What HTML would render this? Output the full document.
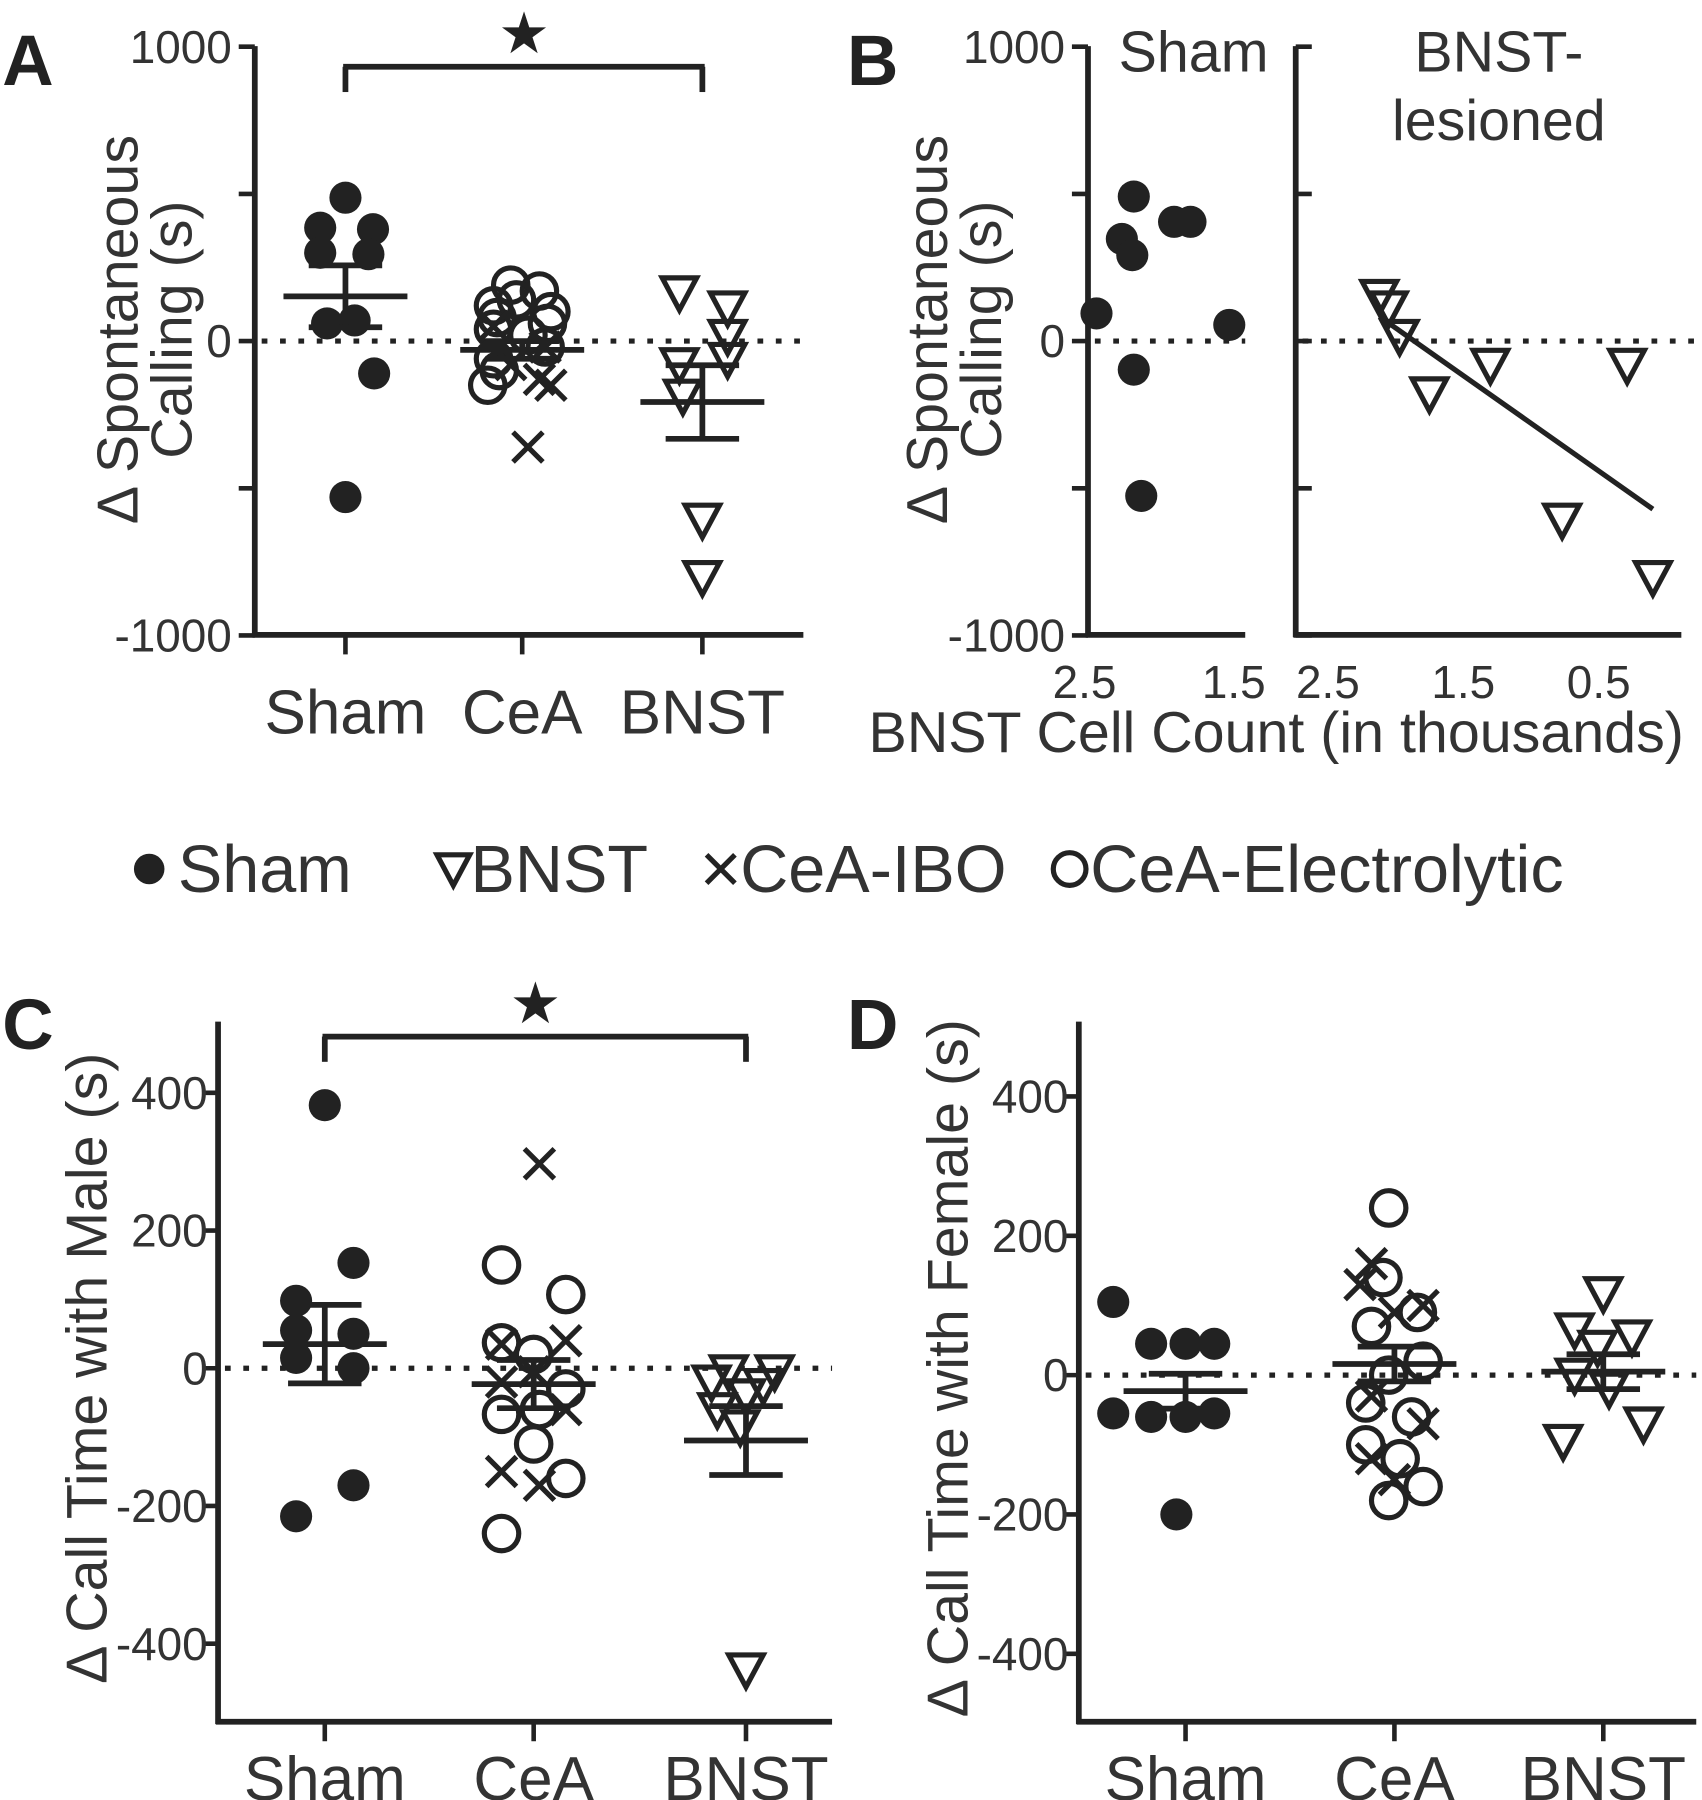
<!DOCTYPE html>
<html><head><meta charset="utf-8"><style>
html,body{margin:0;padding:0;background:#fff;}
svg{display:block;font-family:"Liberation Sans",Arial,sans-serif;}
</style></head><body>
<svg id="fig" width="1702" height="1800" viewBox="0 0 1483 1568">
<g id="static" fill="#222" stroke="none">
  <text x="2" y="74" font-size="62" font-weight="bold">A</text>
  <text x="738" y="74" font-size="62" font-weight="bold">B</text>
  <text x="2" y="914" font-size="62" font-weight="bold">C</text>
  <text x="738" y="914" font-size="62" font-weight="bold">D</text>
  <g font-size="50" fill="#333" text-anchor="middle">
    <text transform="translate(120,287) rotate(-90)">Δ Spontaneous</text>
    <text transform="translate(167,287) rotate(-90)">Calling (s)</text>
    <text transform="translate(825,287) rotate(-90)">Δ Spontaneous</text>
    <text transform="translate(872,287) rotate(-90)">Calling (s)</text>
    <text transform="translate(93,1192) rotate(-90)">Δ Call Time with Male (s)</text>
    <text transform="translate(843,1192) rotate(-90)">Δ Call Time with Female (s)</text>
    <text x="1040" y="62">Sham</text>
    <text x="1306" y="62">BNST-</text>
    <text x="1306" y="122">lesioned</text>
    <text x="1112" y="655" font-size="50">BNST Cell Count (in thousands)</text>
  </g>
</g>
<g id="dyn"></g>
</svg>
<script>
// ---------- Data ----------
const catsABCD = ["Sham","CeA","BNST"];
const aTicks = [1000,0,-1000];
const aSham = [487,385,380,300,295,60,70,-110,-530];
const aShamJit = [0,-22,24,-22,20,-16,8,25,0];
const aCeaCirc = [190,170,120,100,80,60,40,-20,-60,-100,-150,140,20];
const aCeaCircJit = [-10,15,-25,25,-22,22,-25,20,-25,-20,-30,-5,5];
const aCeaX = [50,-20,-80,-130,-150,-360];
const aCeaXJit = [-25,20,-10,15,25,5];
const aBnst = [164,113,16,-62,-80,-187,-608,-803];
const aBnstJit = [-20,22,22,22,-20,-17,0,0];
const aMean = [152,-30,-207];
const aSem = [105,30,125];

const bShamCells = [2.42,2.17,2.25,2.18,1.9,1.79,1.53,2.17,2.12];
const bShamVals = [94,491,347,292,405,405,55,-97,-526];
const bBnstCells = [2.12,2.05,1.97,1.75,1.3,0.29,0.77,0.1];
const bBnstVals = [152,113,16,-179,-82,-82,-608,-803];
const bLeftTicks = ["2.5","1.5"];
const bRightTicks = ["2.5","1.5","0.5"];

const cTicks = [400,200,0,-200,-400];
const cSham = [382,153,98,55,50,15,0,-170,-215];
const cShamJit = [0,25,-25,-25,25,-25,25,25,-25];
const cCeaCirc = [150,107,37,-67,-240,20,-30,-110,-160,-60];
const cCeaCircJit = [-28,28,-28,-28,-28,0,28,0,28,5];
const cCeaX = [297,35,40,-20,-150,-170,-60,-5];
const cCeaXJit = [5,-28,28,-28,-28,5,28,0];
const cBnst = [-5,-5,-20,-25,-40,-60,-85,-438];
const cBnstJit = [-15,25,-30,15,0,-25,-5,0];
const cMean = [35,-23,-105];
const cSem = [57,35,50];

const dSham = [105,45,45,45,-55,-60,-60,-55,-200];
const dShamJit = [-63,-30,0,25,-63,-30,0,25,-8];
const dCeaCirc = [240,140,90,70,20,-40,-60,-100,-120,-160,-180,0];
const dCeaCircJit = [-5,-10,20,-20,25,-25,15,-25,5,25,-5,-5];
const dCeaX = [160,130,100,90,-30,-70,-120,-150];
const dCeaXJit = [-20,-30,25,0,-20,25,-20,0];
const dBnst = [117,65,55,40,0,-20,-95,-70];
const dBnstJit = [0,-25,25,-5,-25,5,-35,35];
const dMean = [-23,16,5];
const dSem = [25,25,25];

// ---------- Drawing ----------
const NS="http://www.w3.org/2000/svg";
const root=document.getElementById('dyn');
const C="#222";
function el(tag,attrs,parent){const e=document.createElementNS(NS,tag);for(const k in attrs)e.setAttribute(k,attrs[k]);(parent||root).appendChild(e);return e;}
function line(x1,y1,x2,y2,w,name,dash){const l=el('line',{x1,y1,x2,y2,stroke:C,'stroke-width':w||5});if(dash)l.setAttribute('stroke-dasharray',dash);

return l;}
function txt(x,y,s,size,anchor,name){const t=el('text',{x,y,'font-size':size,'text-anchor':anchor||'middle',fill:'#333'});t.textContent=s;

return t;}
function marker(type,x,y,name,s){s=s||1;let m;
 if(type==='dot'){m=el('circle',{cx:x,cy:y,r:14*s,fill:C});}
 else if(type==='ring'){m=el('circle',{cx:x,cy:y,r:15*s,fill:'none',stroke:C,'stroke-width':4.5});}
 else if(type==='tri'){const w=15*s,h=13*s;m=el('polygon',{points:`${x-w},${y-h} ${x+w},${y-h} ${x},${y+h+2}`,fill:'none',stroke:C,'stroke-width':4.5,'stroke-linejoin':'miter'});}
 else {const d=13*s;m=el('path',{d:`M${x-d},${y-d}L${x+d},${y+d}M${x-d},${y+d}L${x+d},${y-d}`,stroke:C,'stroke-width':4.5,fill:'none'});}
 
 
 return m;}

function groupPanel(p){
 const y=v=>p.y0-v*p.k;
 const cx=i=>p.cx[i];
 line(p.ax,p.top,p.ax,p.bot+2,5,p.id+'-y-axis');
 line(p.ax-2,p.bot,p.right,p.bot,5,p.id+'-x-axis');
 p.ticks.forEach(t=>{line(p.ax-14,y(t),p.ax,y(t),4,p.id+'-y-tick');txt(p.ax-p.tg,y(t)+14,String(t),p.tfs,'end',p.id+'-y-tick-label');});
 (p.minor||[]).forEach(t=>line(p.ax-14,y(t),p.ax,y(t),4,p.id+'-y-minor-tick'));
 catsABCD.forEach((c,i)=>{line(cx(i),p.bot,cx(i),p.bot+17,4,p.id+'-x-tick');txt(cx(i),p.bot+p.lg,c,54,'middle',p.id+'-x-label-'+c.toLowerCase());});
 line(p.ax+6,y(0),p.right,y(0),4.5,p.id+'-zero-line','5,11');
 p.series.forEach(s=>s.vals.forEach((v,j)=>marker(s.type,cx(s.g)+s.jit[j],y(v),p.id+'-point-'+s.name)));
 p.mean.forEach((m,i)=>{line(cx(i)-54,y(m),cx(i)+54,y(m),5,p.id+'-mean-'+i);line(cx(i),y(m+p.sem[i]),cx(i),y(m-p.sem[i]),5,p.id+'-sem-'+i);
  line(cx(i)-32,y(m+p.sem[i]),cx(i)+32,y(m+p.sem[i]),5,p.id+'-sem-cap-top');line(cx(i)-32,y(m-p.sem[i]),cx(i)+32,y(m-p.sem[i]),5,p.id+'-sem-cap-bot');});
 if(p.bracket){const b=p.bracket;line(cx(0),b.y+22,cx(0),b.y,5,p.id+'-bracket-left');line(cx(0)-2,b.y,cx(2)+2,b.y,5,p.id+'-bracket');line(cx(2),b.y,cx(2),b.y+22,5,p.id+'-bracket-right');
  const st=txt((cx(0)+cx(2))/2,b.y-12,'★',50,'middle',p.id+'-significance-star');st.setAttribute('fill',C);}
}

groupPanel({id:'a',ax:222,top:40,bot:553,right:700,y0:297,k:0.2565,cx:[301,455,612],ticks:aTicks,minor:[500,-500],tfs:40,tg:20,lg:86,
 series:[{g:0,type:'dot',vals:aSham,jit:aShamJit,name:'sham'},{g:1,type:'ring',vals:aCeaCirc,jit:aCeaCircJit,name:'cea-electrolytic'},{g:1,type:'x',vals:aCeaX,jit:aCeaXJit,name:'cea-ibo'},{g:2,type:'tri',vals:aBnst,jit:aBnstJit,name:'bnst'}],
 mean:aMean,sem:aSem,bracket:{y:58}});

groupPanel({id:'c',ax:190,top:890,bot:1500,right:725,y0:1192,k:0.6,cx:[283,465,650],ticks:cTicks,tfs:40,tg:9,lg:68,
 series:[{g:0,type:'dot',vals:cSham,jit:cShamJit,name:'sham'},{g:1,type:'ring',vals:cCeaCirc,jit:cCeaCircJit,name:'cea-electrolytic'},{g:1,type:'x',vals:cCeaX,jit:cCeaXJit,name:'cea-ibo'},{g:2,type:'tri',vals:cBnst,jit:cBnstJit,name:'bnst'}],
 mean:cMean,sem:cSem,bracket:{y:903}});

groupPanel({id:'d',ax:940,top:890,bot:1500,right:1478,y0:1198,k:0.607,cx:[1033,1215,1397],ticks:cTicks,tfs:40,tg:9,lg:68,
 series:[{g:0,type:'dot',vals:dSham,jit:dShamJit,name:'sham'},{g:1,type:'ring',vals:dCeaCirc,jit:dCeaCircJit,name:'cea-electrolytic'},{g:1,type:'x',vals:dCeaX,jit:dCeaXJit,name:'cea-ibo'},{g:2,type:'tri',vals:dBnst,jit:dBnstJit,name:'bnst'}],
 mean:dMean,sem:dSem});

// Panel B
(function(){
 const y=v=>297-v*0.2565;
 const xl=c=>945+(2.5-c)*130, xr=c=>1157+(2.5-c)*118;
 line(948,40,948,555,5,'b-left-y-axis');line(1129,40,1129,555,5,'b-right-y-axis');
 line(946,553,1085,553,5,'b-left-x-axis');line(1127,553,1465,553,5,'b-right-x-axis');
 [1000,0,-1000].forEach(t=>{line(934,y(t),948,y(t),4,'b-y-tick');txt(928,y(t)+14,String(t),40,'end','b-y-tick-label');});
 [500,-500].forEach(t=>line(934,y(t),948,y(t),4,'b-y-minor-tick'));
 [1000,500,0,-500,-1000].forEach(t=>line(1129,y(t),1143,y(t),4,'b-right-y-tick'));
 bLeftTicks.forEach(t=>txt(xl(+t),608,t,40,'middle','b-left-x-tick-label'));
 bRightTicks.forEach(t=>txt(xr(+t),608,t,40,'middle','b-right-x-tick-label'));
 line(954,y(0),1085,y(0),4.5,'b-left-zero-line','5,11');line(1135,y(0),1478,y(0),4.5,'b-right-zero-line','5,11');
 bShamCells.forEach((c,i)=>marker('dot',xl(c),y(bShamVals[i]),'b-sham-point'));
 bBnstCells.forEach((c,i)=>marker('tri',xr(c),y(bBnstVals[i]),'b-bnst-point'));
 const n=bBnstCells.length,mx=bBnstCells.reduce((a,b)=>a+b)/n,my=bBnstVals.reduce((a,b)=>a+b)/n;
 let sxy=0,sxx=0;bBnstCells.forEach((c,i)=>{sxy+=(c-mx)*(bBnstVals[i]-my);sxx+=(c-mx)*(c-mx);});
 const sl=sxy/sxx,ic=my-sl*mx,c0=Math.max(...bBnstCells),c1=Math.min(...bBnstCells);
 line(xr(c0),y(ic+sl*c0),xr(c1),y(ic+sl*c1),4.5,'b-regression-line');
})();

// Legend
(function(){
 const items=[['dot',130,'Sham',155],['tri',395,'BNST',410],['x',628,'CeA-IBO',645],['ring',932,'CeA-Electrolytic',950]];
 items.forEach(it=>{marker(it[0],it[1],757,'legend-marker-'+it[2].toLowerCase(),0.95);txt(it[3],777,it[2],58,'start','legend-entry-'+it[2].toLowerCase());});
})();
</script>
</body></html>
